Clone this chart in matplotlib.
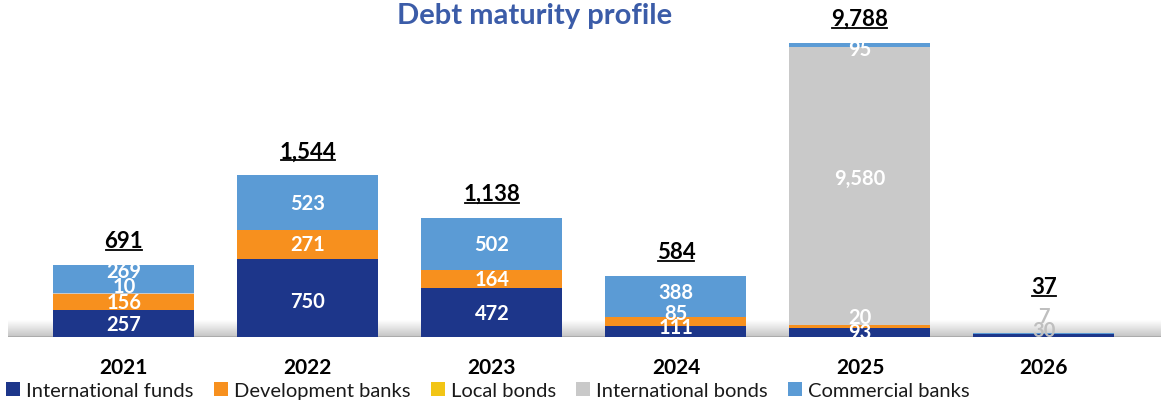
import numpy as np
import matplotlib
matplotlib.use("Agg")
import matplotlib.pyplot as plt
from matplotlib.lines import Line2D
from matplotlib.transforms import IdentityTransform

plt.rcParams["font.family"] = ["Lato", "DejaVu Sans"]

years = ["2021", "2022", "2023", "2024", "2025", "2026"]
international_funds = [257, 750, 472, 111, 93, 30]
development_banks = [156, 271, 164, 85, 20, 0]
local_bonds = [0, 0, 0, 0, 0, 0]
international_bonds = [10, 0, 0, 0, 9580, 0]
commercial_banks = [269, 523, 502, 388, 95, 7]
totals = ["691", "1,544", "1,138", "584", "9,788", "37"]

series = [
    ("International funds", international_funds, "#1d368a"),
    ("Development banks", development_banks, "#f7901e"),
    ("Local bonds", local_bonds, "#f2c515"),
    ("International bonds", international_bonds, "#c9c9c9"),
    ("Commercial banks", commercial_banks, "#5b9bd5"),
]

# broken-axis style scale: linear up to 1600, squeezed above (like the original)
knots_data = [0, 1600, 9700, 9788, 20000]
knots_disp = [0, 1600, 2760, 2804, 2804 + (20000 - 9788) * 0.5]

def fwd(v):
    return np.interp(v, knots_data, knots_disp)

def inv(v):
    return np.interp(v, knots_disp, knots_data)

fig = plt.figure(figsize=(11.61, 4.02), dpi=100)
ax = fig.add_axes([8 / 1161, 1 - 338.3 / 402, 1 - 8 / 1161, 338.3 / 402])
ax.set_yscale("function", functions=(fwd, inv))
ax.set_ylim(0, 10620)
x = np.arange(len(years))
ax.set_xlim(-0.63, 5.636)

# floor gradient
grad = np.linspace(0, 1, 50).reshape(-1, 1)
ax.imshow(grad, cmap=matplotlib.colors.LinearSegmentedColormap.from_list("fl", ["#c4c4c4", "#ffffff"]),
          extent=[0, 1, 0, 17 / 338.3], transform=ax.transAxes, aspect="auto", zorder=0, origin="lower")
ax.axhline(0, color="#a8a8a8", lw=1.2, zorder=1)

# manual nudges of segment labels (points), as in the source chart
nudge = {(0, 3): 5, (0, 4): 5.5, (3, 0): 3.5, (3, 1): 6, (3, 4): 3, (4, 1): 7,
         (4, 3): 6, (4, 4): -2.5, (1, 0): -2.5, (5, 0): 4, (5, 4): 13}

bottom = np.zeros(len(years))
width = 0.766
for si, (name, vals, col) in enumerate(series):
    vals = np.array(vals, dtype=float)
    ax.bar(x, vals, width, bottom=bottom, color=col, label=name, zorder=2)
    for i, v in enumerate(vals):
        if v <= 0:
            continue
        ymid = inv((fwd(bottom[i]) + fwd(bottom[i] + v)) / 2)
        tcol = "#bfbfbf" if i == 5 else "white"
        txt = "{:,}".format(int(v))
        ax.annotate(txt, (x[i], ymid), xytext=(0, nudge.get((i, si), 0)), textcoords="offset points",
                    ha="center", va="center", color=tcol, fontsize=14.5, fontweight="bold",
                    zorder=4, annotation_clip=False).set_clip_on(True)
    bottom += vals

# totals, underlined
tot_texts = []
for i, t in enumerate(totals):
    off = 34 if i == 5 else 17.5
    tt = ax.annotate(t, (x[i], bottom[i]), xytext=(0, off), textcoords="offset points",
                     ha="center", va="center", fontsize=16, fontweight="bold", color="black",
                     annotation_clip=False, zorder=5)
    tot_texts.append(tt)

ax.set_xticks(x)
ax.set_xticklabels(years, fontsize=15, fontweight="bold")
ax.tick_params(axis="x", length=0, pad=14)
ax.set_yticks([])
ax.minorticks_off()
ax.tick_params(axis="y", which="both", left=False, labelleft=False)
for s in ax.spines.values():
    s.set_visible(False)

fig.text(535 / 1161, 1 - 16 / 402, "Debt maturity profile", ha="center", va="center",
         fontsize=21, fontweight="bold", color="#3b5ca8")

fig.legend(loc="lower left", bbox_to_anchor=(-6 / 1161, -0.025), ncol=5, frameon=False,
           fontsize=14.5, handlelength=0.7, handleheight=0.7, handletextpad=0.3,
           columnspacing=1.0, borderaxespad=0.2, labelcolor="#1a1a1a")

fig.canvas.draw()
r = fig.canvas.get_renderer()
for tt in tot_texts:
    bb = tt.get_window_extent(r)
    yl = bb.y0 + 1
    fig.add_artist(Line2D([bb.x0 + 1, bb.x1 - 1], [yl, yl], transform=IdentityTransform(),
                          color="black", lw=1.3))

fig.savefig("out.png", dpi=100)
